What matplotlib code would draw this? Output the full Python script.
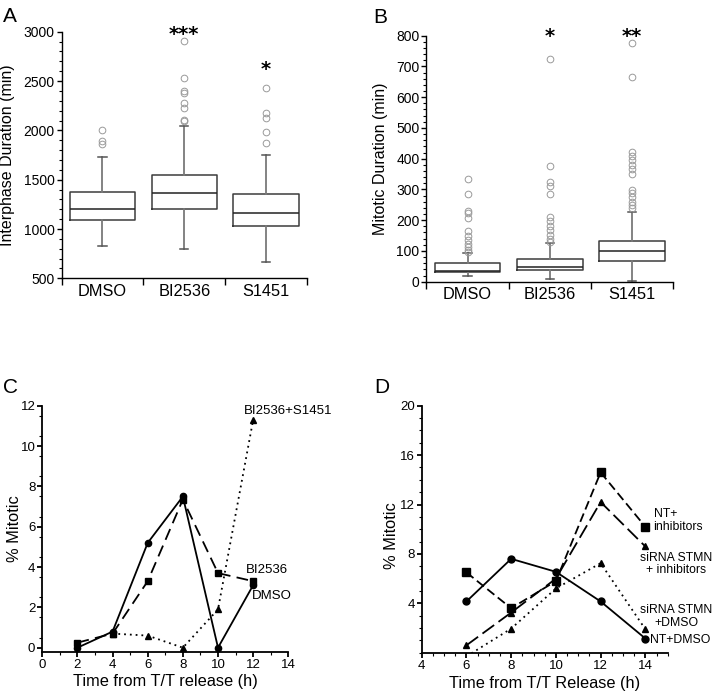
import matplotlib.pyplot as plt
from matplotlib.ticker import MultipleLocator, FixedLocator

plt.rcParams['font.family'] = ['Liberation Sans', 'DejaVu Sans']

groups = ['DMSO', 'BI2536', 'S1451']

# A: interphase duration (min), box stats
inter_low = [825, 795, 670]
inter_q1 = [1095, 1205, 1035]
inter_med = [1205, 1365, 1165]
inter_q3 = [1375, 1550, 1355]
inter_high = [1730, 2045, 1750]
inter_out = [[1865, 1895, 2005],
             [2090, 2110, 2225, 2275, 2375, 2400, 2535, 2905],
             [1875, 1980, 2130, 2180, 2430]]
inter_sig = ['', '***', '*']

# B: mitotic duration (min)
mito_low = [18, 9, 3]
mito_q1 = [33, 38, 68]
mito_med = [36, 49, 100]
mito_q3 = [60, 74, 133]
mito_high = [94, 125, 228]
mito_out = [[98, 103, 112, 122, 135, 150, 166, 206, 222, 230, 285, 334],
            [130, 138, 152, 168, 180, 196, 211, 285, 312, 325, 375, 725],
            [239, 249, 260, 274, 287, 298, 350, 366, 379, 396, 409, 423, 667, 775]]
mito_sig = ['', '*', '**']

# C: % mitotic vs time from T/T release
time_c = [2, 4, 6, 8, 10, 12]
c_dmso = [0, 0.8, 5.2, 7.5, 0, 3.1]
c_bi = [0.25, 0.7, 3.3, 7.35, 3.7, 3.3]
time_c_combo = [4, 6, 8, 10, 12]
c_combo = [0.7, 0.6, 0.0, 1.9, 11.3]

# D: % mitotic, siRNA experiment
time_d = [6, 8, 10, 12, 14]
d_nt_dmso = [4.15, 7.6, 6.55, 4.15, 1.15]
d_nt_inh = [6.5, 3.6, 5.8, 14.6, 10.2]
d_si_inh = [0.6, 3.25, 6.0, 12.2, 8.6]
d_si_dmso = [-0.3, 1.95, 5.2, 7.25, 1.9]

fig = plt.figure(figsize=(7.12, 6.96), dpi=100)


def style_axes(ax, lw=1.0, size=10):
    for side in ['top', 'right']:
        ax.spines[side].set_visible(False)
    for side in ['left', 'bottom']:
        ax.spines[side].set_linewidth(lw)
    ax.tick_params(axis='y', which='major', length=3.5, width=lw, pad=1.5, labelsize=size)
    ax.tick_params(axis='y', which='minor', length=2.2, width=0.8)


def box_panel(ax, low, q1, med, q3, high, out, sig, ylim, major, minor, sig_y):
    stats = []
    for i in range(len(groups)):
        stats.append(dict(label=groups[i], whislo=low[i], q1=q1[i], med=med[i],
                          q3=q3[i], whishi=high[i], fliers=out[i]))
    ax.bxp(stats, positions=[1, 2, 3], widths=0.8, capwidths=0.1,
           boxprops=dict(color='#3c3c3c', lw=1.1),
           whiskerprops=dict(color='#7a7a7a', lw=1.3),
           capprops=dict(color='#555555', lw=1.1),
           medianprops=dict(color='#222222', lw=1.1),
           flierprops=dict(marker='o', mfc='none', mec='#9a9a9a', ms=4.8, mew=0.7),
           manage_ticks=False)
    style_axes(ax)
    ax.set_xlim(0.5, 3.5)
    ax.set_ylim(*ylim)
    ax.yaxis.set_major_locator(MultipleLocator(major))
    ax.yaxis.set_minor_locator(MultipleLocator(minor))
    ax.set_xticks([1, 2, 3])
    ax.set_xticklabels(groups)
    ax.xaxis.set_minor_locator(FixedLocator([0.5, 1.5, 2.5, 3.5]))
    ax.tick_params(axis='x', which='major', length=0, pad=4, labelsize=11.8)
    ax.tick_params(axis='x', which='minor', length=5, width=1.0)
    for i, s in enumerate(sig):
        if s:
            ax.text(i + 1, sig_y[i], s, ha='center', va='baseline', fontsize=14,
                    family='DejaVu Sans', fontweight='bold', clip_on=False)


axA = fig.add_axes([0.0864, 0.6001, 0.3448, 0.3543])
box_panel(axA, inter_low, inter_q1, inter_med, inter_q3, inter_high, inter_out,
          inter_sig, (500, 3000), 500, 100, [0, 2915, 2565])
axA.set_ylabel('Interphase Duration (min)', fontsize=11.5)
axA.yaxis.set_label_coords(-0.189, 0.5)

axB = fig.add_axes([0.599, 0.5953, 0.3462, 0.3534])
box_panel(axB, mito_low, mito_q1, mito_med, mito_q3, mito_high, mito_out,
          mito_sig, (0, 800), 100, 20, [0, 781, 781])
axB.set_ylabel('Mitotic Duration (min)', fontsize=11.5)
axB.yaxis.set_label_coords(-0.156, 0.5)

# C
axC = fig.add_axes([0.0594, 0.0636, 0.3455, 0.3534])
axC.plot(time_c, c_dmso, color='black', lw=1.3, marker='o', ms=4.5)
axC.plot(time_c, c_bi, color='black', lw=1.3, dashes=(6.5, 3.5), marker='s', ms=5)
axC.plot(time_c_combo, c_combo, color='black', lw=1.3, dashes=(1, 2.2), marker='^', ms=3.8)
style_axes(axC, lw=1.3, size=9.5)
axC.set_xlim(0, 14)
axC.set_ylim(-0.2, 12)
axC.xaxis.set_major_locator(MultipleLocator(2))
axC.xaxis.set_minor_locator(MultipleLocator(1))
axC.yaxis.set_major_locator(FixedLocator([0, 2, 4, 6, 8, 10, 12]))
axC.yaxis.set_minor_locator(FixedLocator([v * 0.5 for v in range(1, 24, 2)]))
axC.tick_params(axis='x', which='major', length=3.5, width=1.3, pad=1.5, labelsize=9.5)
axC.tick_params(axis='x', which='minor', length=2.2, width=0.8)
axC.set_ylabel('% Mitotic', fontsize=11.8)
axC.yaxis.set_label_coords(-0.084, 0.5)
axC.set_xlabel('Time from T/T release (h)', fontsize=11.8)
axC.xaxis.set_label_coords(0.5, -0.091)
axC.text(11.48, 11.74, 'BI2536+S1451', fontsize=9.5, ha='left', va='center', clip_on=False)
axC.text(11.59, 3.87, 'BI2536', fontsize=9.5, ha='left', va='center', clip_on=False)
axC.text(11.92, 2.54, 'DMSO', fontsize=9.5, ha='left', va='center', clip_on=False)

# D
axD = fig.add_axes([0.5923, 0.0622, 0.3455, 0.3549])
axD.plot(time_d, d_nt_dmso, color='black', lw=1.3, marker='o', ms=5)
axD.plot(time_d, d_nt_inh, color='black', lw=1.3, dashes=(5, 2.4), marker='s', ms=5.2)
axD.plot(time_d, d_si_inh, color='black', lw=1.3, dashes=(8, 3), marker='^', ms=4.5)
axD.plot(time_d, d_si_dmso, color='black', lw=1.3, dashes=(1, 2.2), marker='^', ms=4.5,
         markevery=[1, 2, 3, 4])
style_axes(axD, lw=1.3, size=9.5)
axD.set_xlim(4, 15)
axD.set_ylim(0, 20)
axD.xaxis.set_major_locator(FixedLocator([4, 6, 8, 10, 12, 14]))
axD.xaxis.set_minor_locator(MultipleLocator(0.5))
axD.yaxis.set_major_locator(FixedLocator([4, 8, 12, 16, 20]))
axD.yaxis.set_minor_locator(MultipleLocator(1))
axD.tick_params(axis='x', which='major', length=3.5, width=1.3, pad=1.5, labelsize=9.5)
axD.tick_params(axis='x', which='minor', length=2.2, width=0.8)
axD.set_ylabel('% Mitotic', fontsize=11.8)
axD.yaxis.set_label_coords(-0.0906, 0.472)
axD.set_xlabel('Time from T/T Release (h)', fontsize=11.8)
axD.xaxis.set_label_coords(0.5, -0.096)
axD.text(14.37, 10.72, 'NT+\ninhibitors', fontsize=8.8, ha='left', va='center',
         linespacing=1.05, clip_on=False)
axD.text(15.38, 7.19, 'siRNA STMN\n+ inhibitors', fontsize=8.8, ha='center', va='center',
         multialignment='center', linespacing=1.05, clip_on=False)
axD.text(15.38, 2.94, 'siRNA STMN\n+DMSO', fontsize=8.8, ha='center', va='center',
         multialignment='center', linespacing=1.05, clip_on=False)
axD.text(14.2, 1.03, 'NT+DMSO', fontsize=8.8, ha='left', va='center', clip_on=False)

# panel letters
for lab, x, y in [('A', 3, 7), ('B', 373, 8), ('C', 3, 378), ('D', 374, 378)]:
    fig.text(x / 712, 1 - y / 696, lab, fontsize=15, ha='left', va='top')

fig.savefig('out.png', dpi=100)
